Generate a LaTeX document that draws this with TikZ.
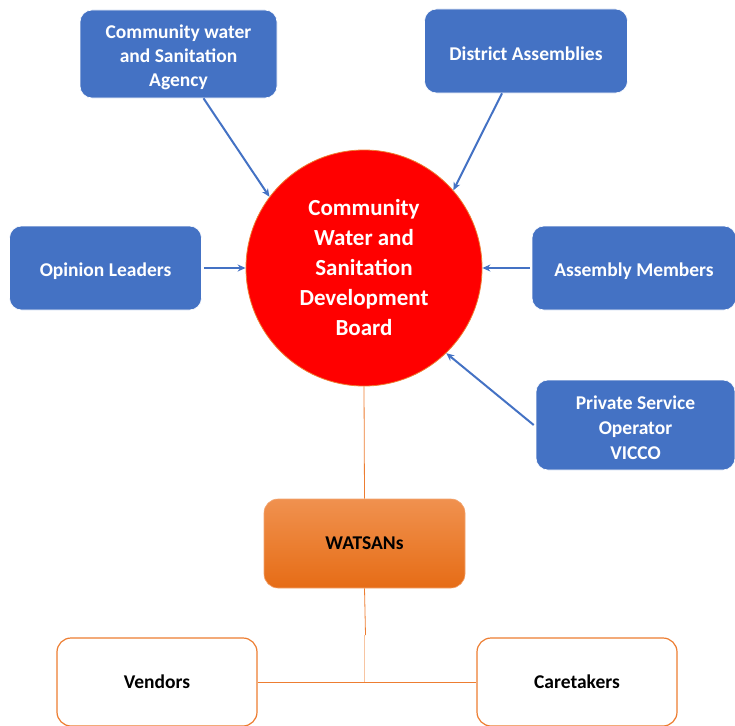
\documentclass[tikz,border=0pt]{standalone}
\usepackage{fontspec}
\setmainfont{Carlito}
\usepackage[HTML]{xcolor}
\usetikzlibrary{arrows.meta}

\definecolor{boxblue}{HTML}{4472C4}
\definecolor{boxorange}{HTML}{ED7D31}
\definecolor{wattop}{HTML}{F0914F}
\definecolor{watbot}{HTML}{E66C16}
\newcommand{\boxstrut}{\rule{0pt}{20pt}}

\begin{document}
\begin{tikzpicture}[x=1pt, y=-1pt,
  agency/.style={draw=white, line width=0.6pt, fill=boxblue, rounded corners=12pt,
    text=white, font=\fontsize{19.5}{24}\selectfont\bfseries, align=center,
    inner sep=0pt},
  member/.style={draw=boxorange, line width=1.2pt, fill=white, rounded corners=14pt,
    minimum width=200pt, minimum height=88pt, font=\fontsize{19.5}{24}\selectfont\bfseries},
  feed/.style={draw=boxblue, line width=2pt, -{Stealth[length=8pt, width=7pt]}},
  tie/.style={draw=boxorange, line width=0.8pt}]
\useasboundingbox (0,0) rectangle (735,725);

% --- Board in the middle ---
\node[circle, fill=red, draw=boxorange, line width=0.8pt, minimum size=236pt,
  text=white, font=\fontsize{23}{30}\selectfont\bfseries, align=center]
  (board) at (364,268) {Community\\Water and\\Sanitation\\Development\\Board};

% --- Bodies feeding the board ---
\node[agency, minimum width=197pt, minimum height=88pt] (cwsa) at (178.5,54)
  {\boxstrut Community water\\and Sanitation\\Agency};
\node[agency, minimum width=203pt, minimum height=84pt] (district) at (526,51)
  {\boxstrut District Assemblies};
\node[agency, minimum width=192pt, minimum height=84pt] (opinion) at (105.5,268)
  {\boxstrut Opinion Leaders};
\node[agency, minimum width=204pt, minimum height=84pt] (members) at (634,268)
  {\boxstrut Assembly Members};
\node[agency, minimum width=199pt, minimum height=90pt,
  font=\fontsize{19.5}{25}\selectfont\bfseries] (operator) at (635.5,425)
  {\boxstrut Private Service\\Operator\\VICCO};

\draw[feed] ([xshift=25pt]cwsa.south) -- (board.143);
\draw[feed] ([xshift=-24pt]district.south) -- (board.41);
\draw[feed] ([xshift=2pt]opinion.east) -- (board.west);
\draw[feed] ([xshift=-2pt]members.west) -- (board.east);
\draw[feed] ([xshift=-2pt]operator.west) -- (board.-46);

% --- WATSANs and the people under them ---
\node[draw=boxorange!70, line width=0.6pt, top color=wattop, bottom color=watbot,
  rounded corners=14pt, minimum width=201pt, minimum height=89pt,
  font=\fontsize{19.5}{24}\selectfont\bfseries] (watsans) at (364.5,543.5) {WATSANs};
\node[member] (vendors) at (157,682) {Vendors};
\node[member] (caretakers) at (577,682) {Caretakers};

\coordinate (kink) at (365.5,635);
\coordinate (joint) at (364,682);
\draw[tie] (board.south) -- (watsans.north);
\draw[tie] (watsans.south) -- (kink);
\draw[tie, draw=boxorange!45] (kink -| joint) -- (joint);
\draw[tie] (vendors.east) -- (caretakers.west);
\end{tikzpicture}
\end{document}
